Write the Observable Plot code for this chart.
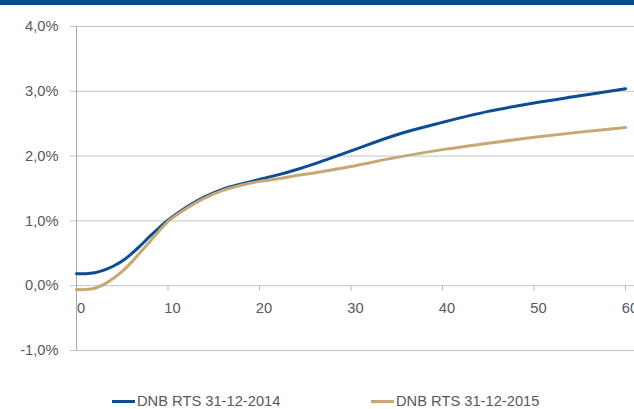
<!DOCTYPE html>
<html>
<head>
<meta charset="utf-8">
<script src="https://cdn.jsdelivr.net/npm/d3@7"></script>
<script src="https://cdn.jsdelivr.net/npm/@observablehq/plot@0.6"></script>
<style>
  html, body { margin: 0; padding: 0; background: white; overflow: hidden; }
  #wrap { position: relative; width: 634px; height: 409px; }
  #band { position: absolute; left: 0; top: 0; width: 634px; height: 5px; background: #004990; }
  #legend { position: absolute; left: 0; top: 380px; width: 634px; height: 29px;
            font-family: "Liberation Sans", sans-serif; font-size: 14.7px; color: #595959; }
  .item { position: absolute; top: 12px; height: 18px; display: flex; align-items: center; white-space: nowrap; }
  .swatch { display: inline-block; width: 23px; height: 3px; margin-right: 2px; }
</style>
</head>
<body>
<div id="wrap">
  <div id="chart"></div>
  <div id="band"></div>
  <div id="legend"></div>
</div>
<script>
// ---- data ----
const maturities = [0,1,2,3,4,5,6,7,8,9,10,12,14,16,18,20,22,24,26,28,30,35,40,45,50,55,60];
const rts2014 = [0.185,0.185,0.20,0.24,0.30,0.38,0.49,0.62,0.76,0.89,1.01,1.21,1.37,1.49,1.57,1.64,1.71,1.79,1.88,1.98,2.08,2.33,2.52,2.69,2.82,2.93,3.04];
const rts2015 = [-0.06,-0.06,-0.04,0.02,0.11,0.22,0.36,0.52,0.68,0.84,0.99,1.19,1.35,1.47,1.55,1.61,1.65,1.70,1.74,1.79,1.84,1.98,2.10,2.20,2.29,2.37,2.44];
const seriesNames = ["DNB RTS 31-12-2014", "DNB RTS 31-12-2015"];
const seriesColors = ["#0B4C93", "#C8A872"];
const xTicks = [0,10,20,30,40,50,60];
const yTicks = [-1,0,1,2,3,4];

const data = [];
maturities.forEach((m, i) => {
  data.push({m, v: rts2014[i], series: seriesNames[0]});
});
maturities.forEach((m, i) => {
  data.push({m, v: rts2015[i], series: seriesNames[1]});
});

const fmtPct = d => d.toFixed(1).replace(".", ",") + "%";
const tickSymbol = { draw(context) { context.moveTo(0, 0); context.lineTo(0, 5); } };

const chart = Plot.plot({
  width: 634,
  height: 380,
  marginLeft: 76,
  marginRight: 0,
  marginTop: 26,
  marginBottom: 30,
  x: { domain: [0, 60.98], axis: null },
  y: { domain: [-1, 4], axis: null },
  color: { domain: seriesNames, range: seriesColors },
  style: { fontFamily: "Liberation Sans, sans-serif", fontSize: "14.7px", color: "#595959", background: "white" },
  marks: [
    Plot.ruleY(yTicks, { y: d => d, stroke: "#c4c4c4", strokeWidth: 1, strokeOpacity: 1, insetLeft: -6 }),
    Plot.ruleX([0], { y1: -1, y2: 4, stroke: "#a8a8a8", strokeWidth: 1, strokeOpacity: 1 }),
    Plot.dot(xTicks.filter(d => d > 0), { x: d => d, y: 0, symbol: tickSymbol, r: 3, stroke: "#b8b8b8", fill: "none", strokeWidth: 1 }),
    Plot.text(yTicks, { y: d => d, frameAnchor: "left", textAnchor: "end", lineAnchor: "middle", dx: -18, text: fmtPct, fill: "#595959" }),
    Plot.text(xTicks, { x: d => d, y: 0, dy: 23, dx: 4.5, lineAnchor: "middle", text: d => String(d), fill: "#595959" }),
    Plot.line(data, { x: "m", y: "v", z: "series", stroke: "series", strokeWidth: 3, curve: "catmull-rom" })
  ]
});
document.getElementById("chart").appendChild(chart);

const legend = document.getElementById("legend");
const lefts = [112, 371];
seriesNames.forEach((name, i) => {
  const item = document.createElement("div");
  item.className = "item";
  item.style.left = lefts[i] + "px";
  const sw = document.createElement("span");
  sw.className = "swatch";
  sw.style.background = seriesColors[i];
  item.appendChild(sw);
  item.appendChild(document.createTextNode(name));
  legend.appendChild(item);
});
</script>
</body>
</html>
